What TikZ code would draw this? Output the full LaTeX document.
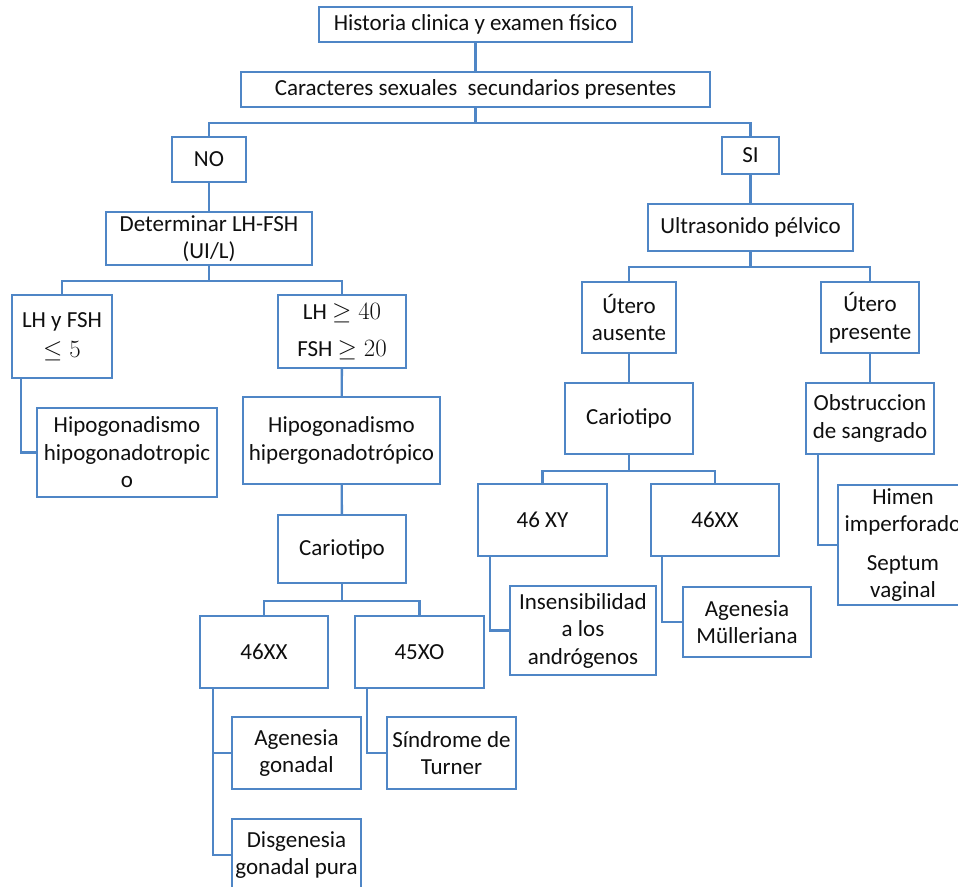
\documentclass[tikz,border=0pt]{standalone}
\usepackage{fontspec}
\setmainfont{Carlito}
\definecolor{boxblue}{RGB}{79,134,198}
\definecolor{ink}{RGB}{15,15,15}
\begin{document}
\begin{tikzpicture}[x=1pt,y=-1pt,
  box/.style={draw=boxblue, line width=2.4pt, fill=white, text=ink, align=center,
    inner sep=0pt, font=\fontsize{23}{27.5}\selectfont},
  sz/.style 2 args={minimum width=#1pt, minimum height=#2pt},
  link/.style={draw=boxblue, line width=2.4pt}]
\useasboundingbox (0,0) rectangle (958,886);
\clip (0,0) rectangle (958,886);

% --- top of the tree
\node[box, sz={313}{35}] (hist)  at (475.5,24.5) {Historia clinica y examen físico};
\node[box, sz={469}{35}] (carac) at (475.5,89.5) {Caracteres sexuales\ \ secundarios presentes};
\node[box, sz={74}{45}]  (no)    at (209,159.5) {NO};
\node[box, sz={57}{37}]  (si)    at (750.5,155.5) {SI};

% --- left branch: no secondary sexual characters
\node[box, sz={206}{53}] (det)   at (209,238.5) {Determinar LH-FSH\\(UI/L)};
\node[box, sz={100}{83}] (lhy)   at (62,336.5) {LH y FSH\\[3pt]$\leq 5$};
\node[box, sz={128}{73}] (lh40)  at (342,331.5) {LH $\geq 40$\\[10pt]FSH $\geq 20$};
\node[box, sz={180}{89}] (hipo)  at (127,452.5) {Hipogonadismo\\hipogonadotropic\\o};
\node[box, sz={197}{87}] (hiper) at (341.5,440.5) {Hipogonadismo\\hipergonadotrópico};
\node[box, sz={128}{68}] (cariA) at (342,549) {Cariotipo};
\node[box, sz={128}{72}] (xxA)   at (264,652) {46XX};
\node[box, sz={129}{72}] (xo)    at (419.5,652) {45XO};
\node[box, sz={129}{72}] (agon)  at (296.5,753) {Agenesia\\gonadal};
\node[box, sz={129}{72}] (disg)  at (296.5,855) {Disgenesia\\gonadal pura};
\node[box, sz={129}{72}] (turn)  at (451.5,753) {Síndrome de\\Turner};

% --- right branch: secondary sexual characters present
\node[box, sz={205}{47}] (ultra) at (750.5,227.5) {Ultrasonido pélvico};
\node[box, sz={94}{71}]  (uaus)  at (629,317.5) {Útero\\ausente};
\node[box, sz={98}{71}]  (upres) at (870,317.5) {Útero\\presente};
\node[box, sz={128}{71}] (cariB) at (629,418.5) {Cariotipo};
\node[box, sz={128}{71}] (obst)  at (870,418.5) {Obstruccion\\de sangrado};
\node[box, sz={129}{72}] (xy)    at (542.5,520) {46 XY};
\node[box, sz={128}{72}] (xxB)   at (715,520) {46XX};
\node[box, sz={146}{89}] (insen) at (583,630.5) {Insensibilidad\\a los\\andrógenos};
\node[box, sz={128}{70}] (mull)  at (747,622) {Agenesia\\Mülleriana};
\node[box, sz={130}{120}, font=\fontsize{23}{26.5}\selectfont] (himen) at (903,545)
  {Himen\\imperforado\\[13pt]Septum\\vaginal};

% --- connectors
\draw[link] (hist) -- (carac);
\draw[link] (carac.south) -- ++(0,15) -| (no.north);
\draw[link] (carac.south) -- ++(0,15) -| (si.north);
\draw[link] (no) -- (det);
\draw[link] (det.south) -- ++(0,15) -| (lhy.north);
\draw[link] (det.south) -- ++(0,15) -| (lh40.north);
\draw[link] ([xshift=10pt]lhy.south west) |- (hipo.west);
\draw[link] (lh40) -- (hiper);
\draw[link] (hiper) -- (cariA);
\draw[link] (cariA.south) -- ++(0,17) -| (xxA.north);
\draw[link] (cariA.south) -- ++(0,17) -| (xo.north);
\draw[link] ([xshift=14pt]xxA.south west) |- (agon.west);
\draw[link] ([xshift=14pt]xxA.south west) |- (disg.west);
\draw[link] ([xshift=13pt]xo.south west) |- (turn.west);

\draw[link] (si) -- (ultra);
\draw[link] (ultra.south) -- ++(0,15) -| (uaus.north);
\draw[link] (ultra.south) -- ++(0,15) -| (upres.north);
\draw[link] (uaus) -- (cariB);
\draw[link] (upres) -- (obst);
\draw[link] (cariB.south) -- ++(0,16) -| (xy.north);
\draw[link] (cariB.south) -- ++(0,16) -| (xxB.north);
\draw[link] ([xshift=13pt]xy.south west) |- (insen.west);
\draw[link] ([xshift=12pt]xxB.south west) |- (mull.west);
\draw[link] ([xshift=13pt]obst.south west) |- (himen.west);
\end{tikzpicture}
\end{document}
